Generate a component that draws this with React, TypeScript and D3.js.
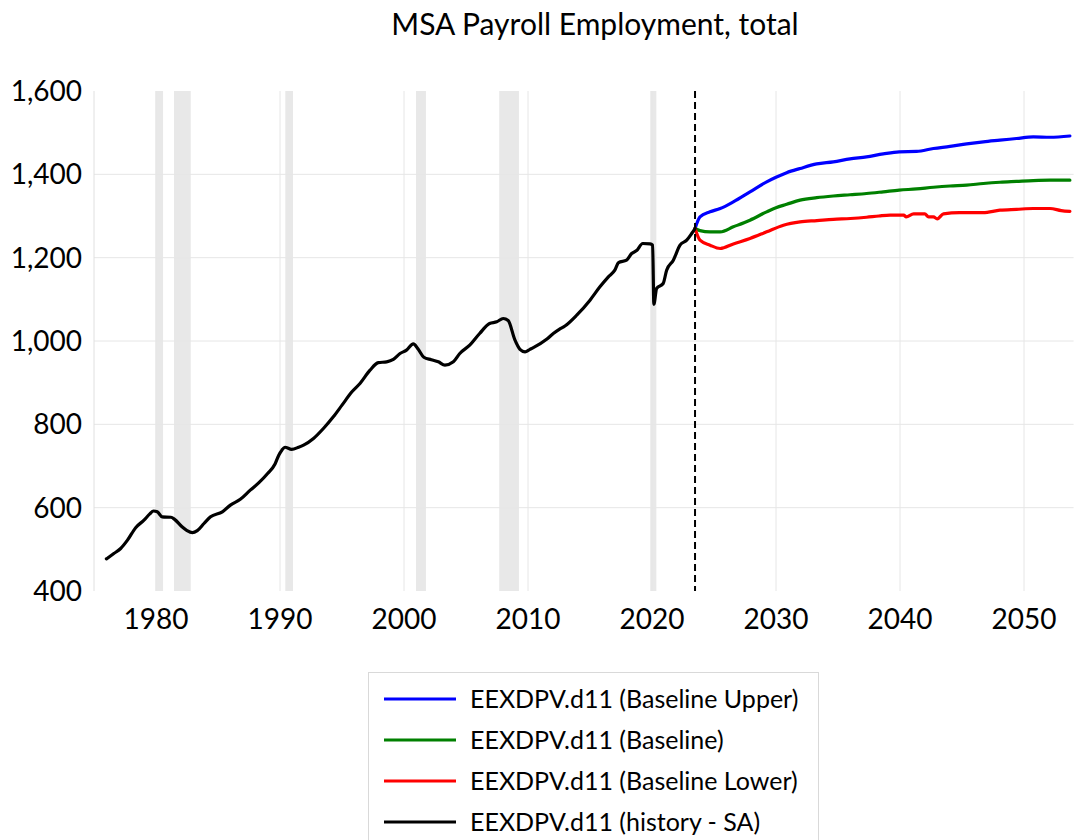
import React from "react";
import * as d3 from "d3";

// ---------- data ----------
const historyYears = [
  1976.0, 1976.6, 1977.15, 1977.7, 1978.36, 1979.03, 1979.5, 1979.8, 1980.1, 1980.5,
  1981.2, 1981.5, 1982.1, 1982.5, 1982.93, 1983.33, 1983.87, 1984.4, 1985.35, 1986.0,
  1986.8, 1987.6, 1988.3, 1989.0, 1989.6, 1989.9, 1990.15, 1990.4, 1990.94, 1991.5,
  1991.9, 1992.7, 1993.5, 1994.3, 1995.0, 1995.8, 1996.45, 1997.26, 1997.93, 1998.6,
  1999.14, 1999.68, 2000.2, 2000.75, 2001.15, 2001.6, 2002.2, 2002.77, 2003.3, 2003.98,
  2004.5, 2005.3, 2006.1, 2006.9, 2007.48, 2008.0, 2008.4, 2008.95, 2009.35, 2009.76,
  2010.16, 2010.43, 2011.5, 2012.04, 2012.52, 2012.98, 2013.93, 2015.0, 2015.8, 2016.48,
  2017.0, 2017.3, 2017.95, 2018.36, 2018.76, 2019.25, 2019.84, 2020.05, 2020.15, 2020.37,
  2020.9, 2021.18, 2021.72, 2022.26, 2022.8, 2023.2, 2023.47,
];
const historyValues = [
  477, 490, 502, 522, 552, 570, 585, 592, 590, 578,
  577, 572, 554, 545, 540, 545, 562, 578, 590, 606,
  620, 642, 660, 682, 705, 726, 738, 745, 740, 745,
  750, 766, 790, 818, 846, 878, 898, 930, 948, 950,
  956, 970, 978, 993, 980, 961, 955, 950, 942, 950,
  970, 990, 1018, 1042, 1046, 1054, 1049, 1002, 980, 974,
  980, 984, 1004, 1018, 1028, 1036, 1062, 1098, 1130, 1154,
  1170, 1188, 1194, 1210, 1217, 1234, 1233, 1230, 1088, 1126,
  1138, 1170, 1194, 1230, 1242, 1258, 1270,
];

const forecastYears = [
  2023.47, 2023.87, 2024.68, 2025.5, 2026.56, 2027.9, 2029.25, 2030.0, 2030.86, 2031.94,
  2033.28, 2034.62, 2035.97, 2037.3, 2038.65, 2039.94, 2041.34, 2042.7, 2044.03, 2045.38,
  2046.72, 2048.06, 2049.4, 2050.75, 2052.1, 2053.7,
];
const upperValues = [
  1270, 1298, 1310, 1318, 1334, 1358, 1382, 1393, 1404, 1414,
  1425, 1430, 1437, 1442, 1449, 1454, 1455, 1462, 1467, 1473,
  1478, 1482, 1486, 1490, 1489, 1492,
];
const baselineValues = [
  1270, 1265, 1262, 1262, 1274, 1290, 1310, 1320, 1328, 1338,
  1344, 1348, 1351, 1354, 1358, 1362, 1365, 1369, 1372, 1374,
  1378, 1381, 1383, 1385, 1386, 1386,
];
const lowerYears = [
  2023.47, 2023.87, 2024.68, 2025.5, 2026.56, 2027.9, 2029.25, 2030.6, 2031.94, 2033.3,
  2034.62, 2036.0, 2037.3, 2038.3, 2039.2, 2040.3, 2040.5, 2041.1, 2042.0, 2042.3,
  2042.7, 2043.0, 2043.5, 2044.8, 2046.7, 2048.06, 2049.4, 2050.75, 2052.1, 2053.0,
  2053.7,
];
const lowerValues = [
  1270, 1242, 1230, 1222, 1233, 1246, 1262, 1278, 1286, 1289,
  1292, 1294, 1297, 1300, 1302, 1302, 1298, 1305, 1305, 1298,
  1298, 1293, 1305, 1308, 1308, 1314, 1316, 1318, 1318, 1313,
  1311,
];

const recessionStarts = [1979.95, 1981.45, 1990.43, 2000.97, 2007.68, 2019.86];
const recessionEnds = [1980.57, 1982.8, 1991.05, 2001.77, 2009.27, 2020.35];

const yTicks = [400, 600, 800, 1000, 1200, 1400, 1600];
const xTicks = [1980, 1990, 2000, 2010, 2020, 2030, 2040, 2050];
const forecastStart = 2023.47;

const legendLabels = [
  "EEXDPV.d11 (Baseline Upper)",
  "EEXDPV.d11 (Baseline)",
  "EEXDPV.d11 (Baseline Lower)",
  "EEXDPV.d11 (history - SA)",
];
const legendColors = ["#0000ff", "#008000", "#ff0000", "#000000"];

const title = "MSA Payroll Employment, total";

// ---------- chart ----------
const W = 1084;
const H = 840;
const FONT = "Lato, 'Open Sans', sans-serif";

export default function App() {
  const x = d3.scaleLinear().domain([1975, 2054]).range([94, 1073.6]);
  const y = d3.scaleLinear().domain([400, 1600]).range([591, 91]);
  const fmt = d3.format(",");

  const line = d3
    .line<[number, number]>()
    .x((d) => x(d[0]))
    .y((d) => y(d[1]))
    .curve(d3.curveMonotoneX);

  const zip = (a: number[], b: number[]) => a.map((v, i) => [v, b[i]] as [number, number]);

  const series = [
    { pts: zip(forecastYears, upperValues), color: legendColors[0] },
    { pts: zip(forecastYears, baselineValues), color: legendColors[1] },
    { pts: zip(lowerYears, lowerValues), color: legendColors[2] },
    { pts: zip(historyYears, historyValues), color: legendColors[3] },
  ];

  const [y0, y1] = y.range();
  const [x0, x1] = x.range();

  return (
    <svg
      width={W}
      height={H}
      style={{ position: "absolute", left: 0, top: 0, background: "#fff" }}
      fontFamily={FONT}
    >
      <rect x={0} y={0} width={W} height={H} fill="#fff" />
      <text x={595} y={35} textAnchor="middle" fontSize={30} fill="#000">
        {title}
      </text>

      {/* recession bands */}
      {recessionStarts.map((s, i) => (
        <rect
          key={"r" + i}
          x={x(s)}
          y={y1}
          width={x(recessionEnds[i]) - x(s)}
          height={y0 - y1}
          fill="#e8e8e8"
        />
      ))}

      {/* gridlines */}
      {yTicks
        .filter((t) => t !== 400 && t !== 1600)
        .map((t) => (
          <line key={"gy" + t} x1={x0} x2={x1} y1={y(t)} y2={y(t)} stroke="#e6e6e6" strokeWidth={1} />
        ))}
      {xTicks.map((t) => (
        <line key={"gx" + t} x1={x(t)} x2={x(t)} y1={y1} y2={y0} stroke="#e6e6e6" strokeWidth={1} />
      ))}
      <line x1={x0} x2={x0} y1={y1} y2={y0} stroke="#e0e0e0" strokeWidth={1} />

      {/* series */}
      {series.map((s, i) => (
        <path
          key={"s" + i}
          d={line(s.pts) || ""}
          fill="none"
          stroke={s.color}
          strokeWidth={3.2}
          strokeLinejoin="round"
          strokeLinecap="round"
        />
      ))}

      {/* forecast divider */}
      <line
        x1={x(forecastStart)}
        x2={x(forecastStart)}
        y1={y1}
        y2={y0}
        stroke="#000"
        strokeWidth={2}
        strokeDasharray="7,4"
      />

      {/* y tick labels */}
      {yTicks.map((t) => (
        <text key={"ty" + t} x={82} y={y(t) + 10} textAnchor="end" fontSize={28} fill="#000">
          {fmt(t)}
        </text>
      ))}
      {/* x tick labels */}
      {xTicks.map((t) => (
        <text key={"tx" + t} x={x(t)} y={629} textAnchor="middle" fontSize={28} fill="#000">
          {t}
        </text>
      ))}

      {/* legend */}
      <rect x={368.5} y={672.5} width={450} height={180} fill="#fff" stroke="#d9d9d9" strokeWidth={1} />
      {legendLabels.map((l, i) => (
        <g key={"l" + i} transform={`translate(0, ${699 + i * 41})`}>
          <line x1={384} x2={456} y1={0} y2={0} stroke={legendColors[i]} strokeWidth={3} />
          <text x={470} y={8.5} fontSize={25} fill="#000">
            {l}
          </text>
        </g>
      ))}
    </svg>
  );
}
